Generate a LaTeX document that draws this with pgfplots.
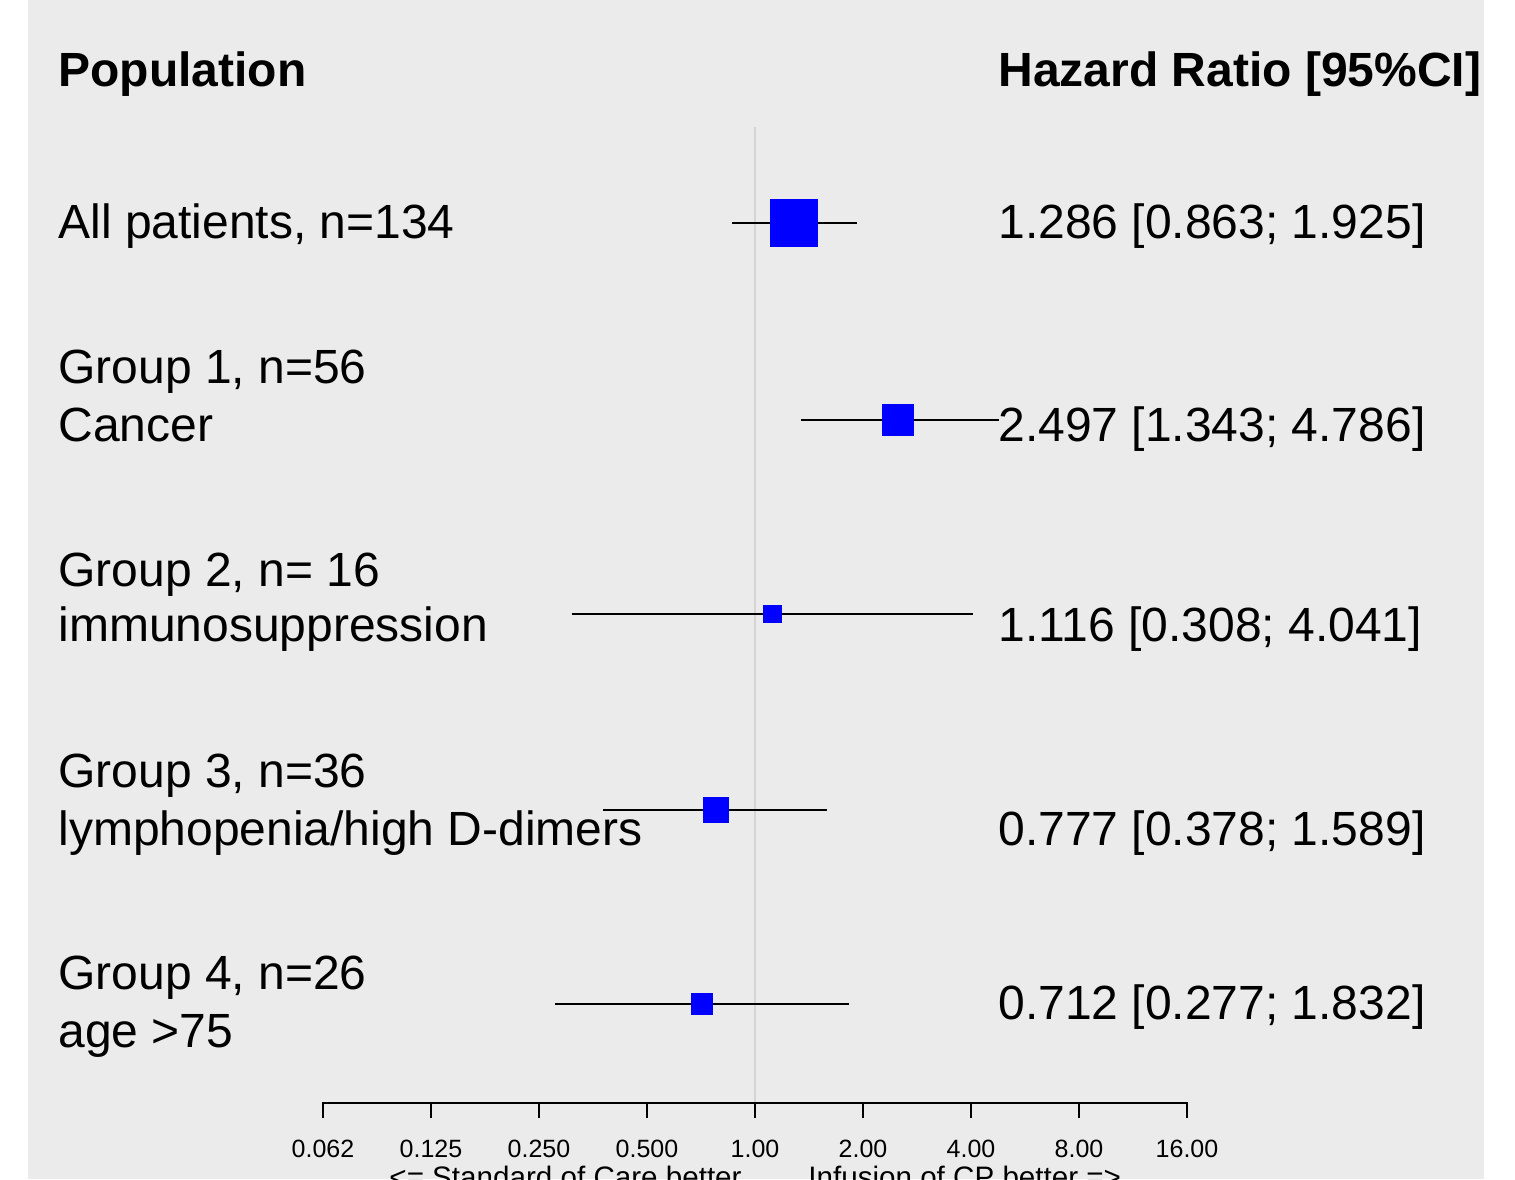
\documentclass[border=0pt]{standalone}
\usepackage{pgfplots}
\pgfplotsset{compat=1.18}
\usepackage{fontspec}
\setmainfont{Liberation Sans}
\definecolor{bg}{RGB}{235,235,235}
\definecolor{refl}{RGB}{212,212,212}
\definecolor{mblue}{RGB}{0,0,255}
\begin{document}
\begin{tikzpicture}
\begin{scope}
\clip (0,0) rectangle (757.5pt,589.5pt);
\fill[bg] (14pt,0) rectangle (742pt,589.5pt);
\begin{axis}[
  at={(0,0)}, anchor=south west,
  scale only axis, width=757.5pt, height=589.5pt,
  xmode=log, log basis x=2,
  xmin=0.007863, xmax=131.33,
  ymin=0, ymax=1179, y dir=reverse,
  hide axis, clip=false,
]
% reference line at 1
\addplot[refl, line width=1pt] coordinates {(1,127) (1,1103)};
% CI lines
\addplot[black, line width=1.45pt] coordinates {(0.863,223) (1.925,223)};
\addplot[black, line width=1.45pt] coordinates {(1.343,420) (4.786,420)};
\addplot[black, line width=1.45pt] coordinates {(0.308,614) (4.041,614)};
\addplot[black, line width=1.45pt] coordinates {(0.378,810) (1.589,810)};
\addplot[black, line width=1.45pt] coordinates {(0.277,1004) (1.832,1004)};
% point estimates
\pgfplotsset{hrmark/.style={only marks, mark=square*, mblue, mark options={draw=mblue, fill=mblue, line width=0.4pt, rounded corners=0.6pt}}}
\addplot[hrmark, mark size=11.8pt] coordinates {(1.286,223)};
\addplot[hrmark, mark size=7.8pt] coordinates {(2.497,420)};
\addplot[hrmark, mark size=4.4pt] coordinates {(1.116,614)};
\addplot[hrmark, mark size=6.3pt] coordinates {(0.777,810)};
\addplot[hrmark, mark size=5.4pt] coordinates {(0.712,1004)};
% bottom scale
\addplot[black, line width=1.4pt] coordinates {(0.0625,1103) (16,1103)};
\foreach \v/\l in {0.0625/0.062, 0.125/0.125, 0.25/0.250, 0.5/0.500, 1/1.00, 2/2.00, 4/4.00, 8/8.00, 16/16.00}{
  \edef\temp{\noexpand\draw[black, line width=1.4pt] (axis cs:\v,1102.3) -- (axis cs:\v,1118);
  \noexpand\node[anchor=base, font=\noexpand\fontsize{12.5}{15}\noexpand\selectfont, inner sep=0pt] at (axis cs:\v,1157) {\l};}
  \temp
}
\end{axis}
\begin{scope}[x=0.5pt, y=-0.5pt, shift={(0,589.5pt)}]
\tikzset{lab/.style={anchor=base west, inner sep=0pt, font=\fontsize{24}{28}\selectfont}}
\node[lab, font=\fontsize{24}{28}\selectfont\bfseries] at (58,87) {Population};
\node[lab, font=\fontsize{24}{28}\selectfont\bfseries] at (998,87) {Hazard Ratio [95\%CI]};
\node[lab] at (58,239) {All patients, n=134};
\node[lab] at (58,384) {Group 1, n=56};
\node[lab] at (58,442) {Cancer};
\node[lab] at (58,587) {Group 2, n= 16};
\node[lab] at (58,642) {immunosuppression};
\node[lab] at (58,787) {Group 3, n=36};
\node[lab] at (58,845) {lymphopenia/high D-dimers};
\node[lab] at (58,989) {Group 4, n=26};
\node[lab] at (58,1047) {age >75};
\node[lab] at (998,239) {1.286 [0.863; 1.925]};
\node[lab] at (998,442) {2.497 [1.343; 4.786]};
\node[lab] at (998,642) {1.116 [0.308; 4.041]};
\node[lab] at (998,845) {0.777 [0.378; 1.589]};
\node[lab] at (998,1019) {0.712 [0.277; 1.832]};
\node[anchor=base east, inner sep=0pt, font=\fontsize{14.8}{17}\selectfont] at (742,1187) {<= Standard of Care better};
\node[anchor=base west, inner sep=0pt, font=\fontsize{14.8}{17}\selectfont] at (808,1187) {Infusion of CP better =>};
\end{scope}
\end{scope}
\pgfresetboundingbox
\path[use as bounding box] (0,0) rectangle (757.5pt,589.5pt);
\end{tikzpicture}
\end{document}
